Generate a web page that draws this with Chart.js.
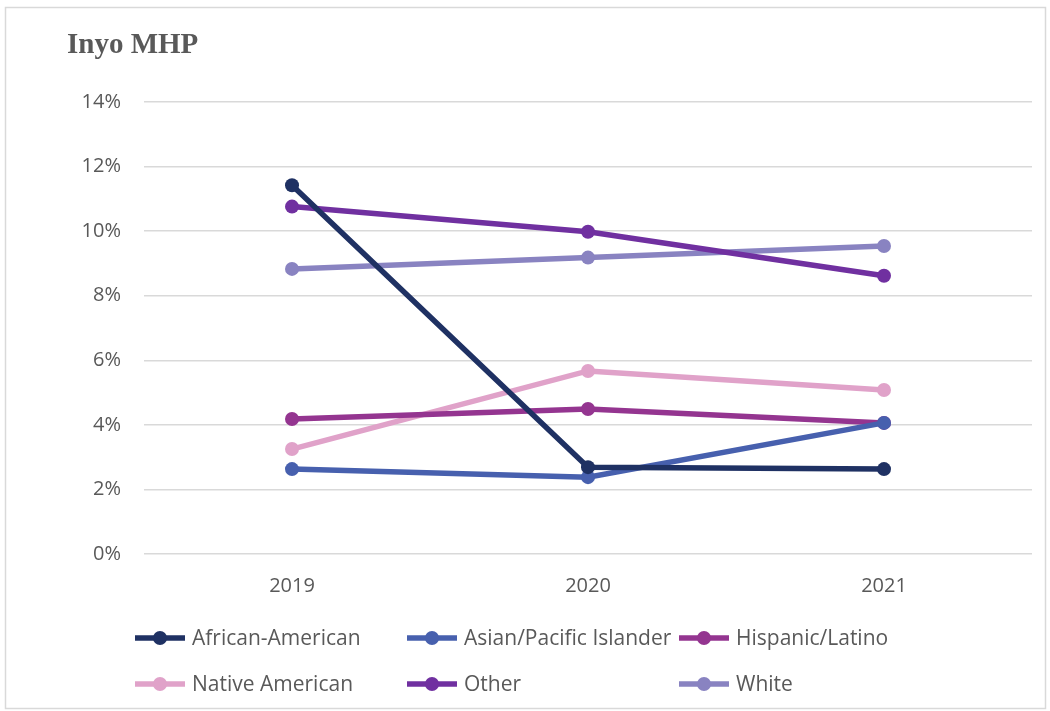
<!DOCTYPE html>
<html>
<head>
<meta charset="utf-8">
<script src="https://cdn.jsdelivr.net/npm/chart.js@4/dist/chart.umd.min.js"></script>
<style>
html,body{margin:0;padding:0;background:#fff;}
#wrap{position:relative;width:1050px;height:711px;}
</style>
</head>
<body>
<div id="wrap"><canvas id="c" width="1050" height="711"></canvas></div>
<script>
const years = ["2019", "2020", "2021"];
const africanAmerican = [11.42, 2.69, 2.63];
const asianPacific = [2.63, 2.38, 4.06];
const hispanicLatino = [4.18, 4.49, 4.06];
const nativeAmerican = [3.25, 5.67, 5.08];
const other = [10.76, 9.98, 8.62];
const white = [8.83, 9.18, 9.54];
const seriesNames = ["African-American", "Asian/Pacific Islander", "Hispanic/Latino", "Native American", "Other", "White"];
const seriesColors = ["#1f3163", "#4760ae", "#943590", "#e0a2c9", "#7030a0", "#8983c1"];
const yTicks = [0, 2, 4, 6, 8, 10, 12, 14];

const seriesData = [africanAmerican, asianPacific, hispanicLatino, nativeAmerican, other, white];
const FONT = "'Open Sans', 'Liberation Sans', sans-serif";

const datasets = seriesNames.map((n, i) => ({
  label: n,
  data: seriesData[i],
  borderColor: seriesColors[i],
  backgroundColor: seriesColors[i],
  pointBackgroundColor: seriesColors[i],
  pointBorderColor: seriesColors[i],
  borderWidth: 5.5,
  pointRadius: 7,
  pointBorderWidth: 0,
  tension: 0,
  fill: false
}));

const decor = {
  id: 'decor',
  afterDraw(chart) {
    const ctx = chart.ctx;
    ctx.save();
    ctx.strokeStyle = '#d9d9d9';
    ctx.lineWidth = 1.5;
    ctx.strokeRect(5.5, 7.5, 1040, 701);
    ctx.fillStyle = '#595959';
    ctx.font = "bold 29px 'Liberation Serif', 'Times New Roman', serif";
    ctx.textBaseline = 'middle';
    ctx.textAlign = 'left';
    ctx.fillText('Inyo MHP', 67, 46);
    const colsX = [135, 407, 679];
    const rowsY = [638, 684];
    chart.data.datasets.forEach((ds, i) => {
      const x = colsX[i % 3];
      const y = rowsY[Math.floor(i / 3)];
      ctx.strokeStyle = ds.borderColor;
      ctx.lineWidth = 5.5;
      ctx.beginPath();
      ctx.moveTo(x, y);
      ctx.lineTo(x + 50, y);
      ctx.stroke();
      ctx.fillStyle = ds.borderColor;
      ctx.beginPath();
      ctx.arc(x + 25, y, 7, 0, Math.PI * 2);
      ctx.fill();
      ctx.fillStyle = '#595959';
      ctx.font = "21px " + FONT;
      ctx.textBaseline = 'middle';
      ctx.fillText(ds.label, x + 57, y + 1);
    });
    ctx.restore();
  }
};

new Chart(document.getElementById('c'), {
  type: 'line',
  data: { labels: years, datasets },
  options: {
    responsive: false,
    animation: false,
    events: [],
    layout: { padding: { left: 0, right: 18, top: 102, bottom: 0 } },
    plugins: { legend: { display: false }, title: { display: false }, tooltip: { enabled: false } },
    scales: {
      x: {
        offset: true,
        grid: { display: false, drawTicks: false },
        border: { display: false },
        ticks: { color: '#595959', font: { family: FONT, size: 20 }, padding: 20 },
        afterFit(s) { s.height = 157; }
      },
      y: {
        min: 0, max: 14,
        afterBuildTicks(s) { s.ticks = yTicks.map(v => ({ value: v })); },
        grid: { color: '#d9d9d9', lineWidth: 1.5, drawTicks: false },
        border: { display: false },
        ticks: { color: '#595959', font: { family: FONT, size: 20 }, padding: 23, callback: v => v + '%' },
        afterFit(s) { s.width = 144; }
      }
    }
  },
  plugins: [decor]
});
</script>
</body>
</html>
